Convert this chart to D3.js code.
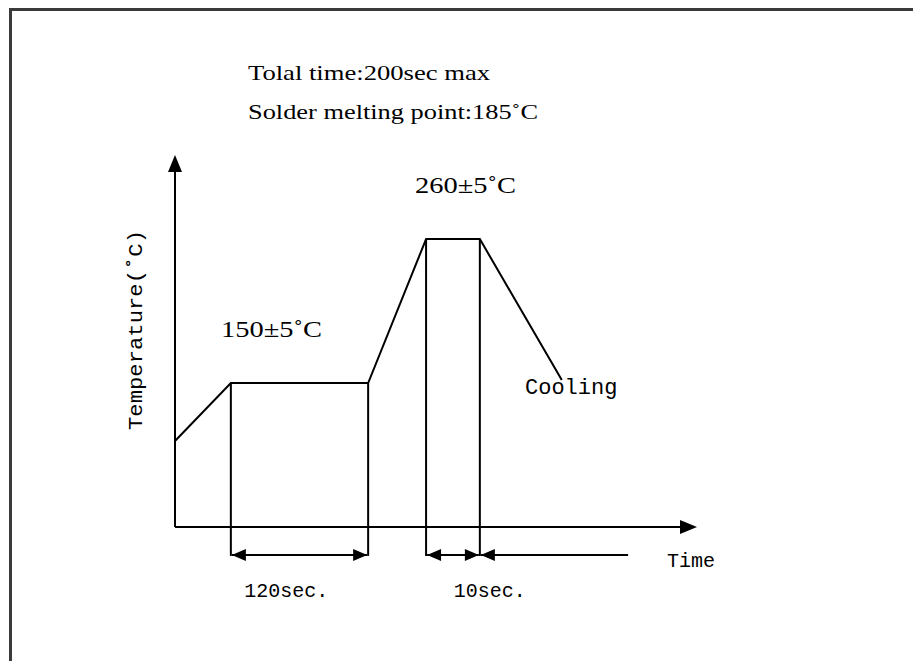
<!DOCTYPE html>
<html>
<head>
<meta charset="utf-8">
<script src="https://cdn.jsdelivr.net/npm/d3@7"></script>
<style>
  body { margin: 0; background: #fff; }
  svg { display: block; }
</style>
</head>
<body>
<svg width="913" height="661"></svg>
<script>
// Schematic reflow profile (not to scale): time and temperature in arbitrary units 0-100
var profileTime = [0, 10.7, 37.0, 48.1, 58.4, 74.1];
var profileTemp = [23.1, 38.7, 38.7, 77.4, 77.4, 39.5];

// vertical guide lines dropped from the profile corners
var guideTime = [10.7, 37.0, 48.1, 58.4];

// dimension arrows under the time axis
var dimFrom = [10.7, 48.1, 58.4];
var dimTo = [37.0, 58.4, 86.8];
var dimHeads = ["both", "both", "start"];
var dimLabels = ["120sec.", "", "10sec."];
var dimLabelTime = [21.3, 0, 60.3];

var noteLines = ["Tolal time:200sec max", "Solder melting point:185˚C"];
var plateauLabels = ["150±5˚C", "260±5˚C"];

var svg = d3.select("svg"),
  width = +svg.attr("width"),
  height = +svg.attr("height");

var x = d3.scaleLinear().domain([0, 100]).range([175, 697]);
var y = d3.scaleLinear().domain([0, 100]).range([527, 155]);
var dimY = y(-7.5);

// frame (only top and left edges show in the crop)
svg.append("path")
  .attr("d", "M10.5," + height + "V9.5H" + (width + 5))
  .attr("fill", "none")
  .attr("stroke", "#3a3a3a")
  .attr("stroke-width", 3);

var ink = "#000";
var lw = 2;

// axes
svg.append("line")
  .attr("x1", x(0)).attr("y1", y(0))
  .attr("x2", x(0)).attr("y2", y(100) + 8)
  .attr("stroke", ink).attr("stroke-width", lw);
svg.append("line")
  .attr("x1", x(0)).attr("y1", y(0))
  .attr("x2", x(100) - 8).attr("y2", y(0))
  .attr("stroke", ink).attr("stroke-width", lw);

function head(px, py, dir, len, half) {
  // filled triangle, tip at (px,py), pointing in dir
  if (dir == "up") return "M" + px + "," + py + "L" + (px - half) + "," + (py + len) + "L" + (px + half) + "," + (py + len) + "Z";
  if (dir == "right") return "M" + px + "," + py + "L" + (px - len) + "," + (py - half) + "L" + (px - len) + "," + (py + half) + "Z";
  return "M" + px + "," + py + "L" + (px + len) + "," + (py - half) + "L" + (px + len) + "," + (py + half) + "Z";
}
svg.append("path").attr("d", head(x(0), y(100), "up", 17, 7)).attr("fill", ink);
svg.append("path").attr("d", head(x(100), y(0), "right", 17, 7)).attr("fill", ink);

// profile
var line = d3.line()
  .x(function(d, i) { return x(profileTime[i]); })
  .y(function(d, i) { return y(profileTemp[i]); });
svg.append("path")
  .datum(profileTime)
  .attr("d", line)
  .attr("fill", "none")
  .attr("stroke", ink)
  .attr("stroke-width", lw)
  .attr("stroke-linejoin", "miter");

// guide lines
svg.selectAll(".guide")
  .data(guideTime)
  .enter().append("line")
  .attr("class", "guide")
  .attr("x1", function(d) { return x(d); })
  .attr("x2", function(d) { return x(d); })
  .attr("y1", function(d) { return y(profileTemp[profileTime.indexOf(d)]); })
  .attr("y2", dimY + 1)
  .attr("stroke", ink).attr("stroke-width", lw);

// dimension arrows
var mono = "Liberation Mono, Courier New, monospace";
dimFrom.forEach(function(f, i) {
  var x0 = x(f) + 1, x1 = x(dimTo[i]) - (dimHeads[i] == "both" ? 1 : 0);
  svg.append("line")
    .attr("x1", x0).attr("x2", x1)
    .attr("y1", dimY).attr("y2", dimY)
    .attr("stroke", ink).attr("stroke-width", lw);
  svg.append("path").attr("d", head(x0, dimY, "left", 14, 6)).attr("fill", ink);
  if (dimHeads[i] == "both")
    svg.append("path").attr("d", head(x1, dimY, "right", 14, 6)).attr("fill", ink);
  if (dimLabels[i])
    svg.append("text")
      .attr("x", x(dimLabelTime[i]))
      .attr("y", dimY + 42)
      .attr("text-anchor", "middle")
      .attr("font-family", mono)
      .attr("font-size", 20)
      .text(dimLabels[i]);
});

// labels
var serif = "Liberation Serif, Times New Roman, serif";

svg.selectAll(".note")
  .data(noteLines)
  .enter().append("text")
  .attr("class", "note")
  .attr("x", 248)
  .attr("y", function(d, i) { return 80 + i * 39; })
  .attr("font-family", serif)
  .attr("font-size", 21)
  .attr("textLength", function(d, i) { return [242, 290][i]; })
  .attr("lengthAdjust", "spacingAndGlyphs")
  .text(function(d) { return d; });

svg.selectAll(".plateau")
  .data(plateauLabels)
  .enter().append("text")
  .attr("class", "plateau")
  .attr("x", function(d, i) { return [221, 415][i]; })
  .attr("y", function(d, i) { return [337, 193][i]; })
  .attr("font-family", serif)
  .attr("font-size", 24)
  .attr("textLength", 101)
  .attr("lengthAdjust", "spacingAndGlyphs")
  .text(function(d) { return d; });

svg.append("text")
  .attr("x", 525).attr("y", 394)
  .attr("font-family", mono).attr("font-size", 22)
  .text("Cooling");

svg.append("text")
  .attr("x", 667).attr("y", 567)
  .attr("font-family", mono).attr("font-size", 20)
  .text("Time");

svg.append("text")
  .attr("transform", "translate(142,330) rotate(-90)")
  .attr("text-anchor", "middle")
  .attr("font-family", mono).attr("font-size", 21)
  .attr("textLength", 200)
  .attr("lengthAdjust", "spacingAndGlyphs")
  .text("Temperature(˚C)");
</script>
</body>
</html>
